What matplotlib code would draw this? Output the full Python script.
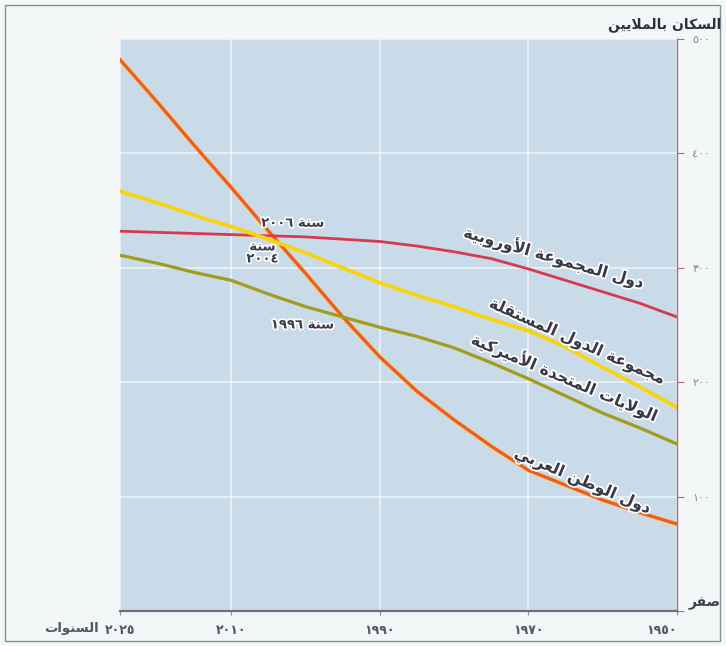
import matplotlib
matplotlib.use('Agg')
import matplotlib.pyplot as plt
import matplotlib.patheffects as pe
from matplotlib.patches import Rectangle

# years on the (reversed) x axis
years = [2025, 2020, 2015, 2010, 2005, 2000, 1995, 1990, 1985, 1980, 1975, 1970, 1965, 1960, 1955, 1950]

# population in millions
arab = [482, 445, 407, 370, 332, 295, 257, 222, 192, 167, 144, 123, 110, 97, 86, 76]
europe = [332, 331, 330, 329, 328, 327, 325, 323, 319, 314, 308, 299, 289, 279, 269, 257]
cis = [367, 357, 346, 336, 325, 313, 300, 287, 276, 266, 255, 245, 231, 213, 196, 178]
usa = [311, 304, 296, 289, 277, 266, 257, 248, 240, 230, 217, 203, 188, 173, 160, 146]

xticks = [2025, 2010, 1990, 1970, 1950]
xtick_labels = ['٢٠٢٥', '٢٠١٠', '١٩٩٠', '١٩٧٠', '١٩٥٠']
yticks = [0, 100, 200, 300, 400, 500]
ytick_labels = ['صفر', '١٠٠', '٢٠٠', '٣٠٠', '٤٠٠', '٥٠٠']

# --- tiny arabic shaper (matplotlib has no complex text layout) ---
dual = {'ب': 0xFE8F, 'ت': 0xFE95, 'ث': 0xFE99, 'ج': 0xFE9D, 'ح': 0xFEA1, 'خ': 0xFEA5,
        'س': 0xFEB1, 'ش': 0xFEB5, 'ص': 0xFEB9, 'ض': 0xFEBD, 'ط': 0xFEC1, 'ظ': 0xFEC5,
        'ع': 0xFEC9, 'غ': 0xFECD, 'ف': 0xFED1, 'ق': 0xFED5, 'ك': 0xFED9, 'ل': 0xFEDD,
        'م': 0xFEE1, 'ن': 0xFEE5, 'ه': 0xFEE9, 'ي': 0xFEF1}
right = {'آ': 0xFE81, 'أ': 0xFE83, 'إ': 0xFE87, 'ا': 0xFE8D, 'ة': 0xFE93, 'د': 0xFEA9,
         'ذ': 0xFEAB, 'ر': 0xFEAD, 'ز': 0xFEAF, 'و': 0xFEED, 'ى': 0xFEEF}
lamalef = {'آ': 0xFEF5, 'أ': 0xFEF7, 'إ': 0xFEF9, 'ا': 0xFEFB}


def ar(text):
    out = []
    i = 0
    n = len(text)
    while i < n:
        c = text[i]
        prev = text[i - 1] if i > 0 else ''
        nxt = text[i + 1] if i + 1 < n else ''
        pj = prev in dual
        if c == 'ل' and nxt in lamalef:
            out.append(chr(lamalef[nxt] + (1 if pj else 0)))
            i += 2
            continue
        if c in dual:
            nj = nxt in dual or nxt in right
            if pj and nj:
                out.append(chr(dual[c] + 3))
            elif pj:
                out.append(chr(dual[c] + 1))
            elif nj:
                out.append(chr(dual[c] + 2))
            else:
                out.append(chr(dual[c]))
        elif c in right:
            out.append(chr(right[c] + (1 if pj else 0)))
        else:
            out.append(c)
        i += 1
    # visual order: reverse, but keep digit runs left to right
    vis = ''.join(reversed(out))
    res = []
    run = ''
    for ch in vis:
        if '٠' <= ch <= '٩':
            run += ch
        else:
            res.append(run[::-1])
            run = ''
            res.append(ch)
    res.append(run[::-1])
    return ''.join(res)


plt.rcParams['font.family'] = ['DejaVu Sans']

fig = plt.figure(figsize=(7.26, 6.46), dpi=100, facecolor='#f3f7f8')
ax = fig.add_axes([120 / 726, 35 / 646, 557 / 726, 572 / 646])
ax.set_facecolor('#c9dbe9')

ax.plot(years, arab, color='#f6d24a', lw=3.6, alpha=0.7, solid_capstyle='butt')
ax.plot(years, arab, color='#ef5a25', lw=2.3)
ax.plot(years, europe, color='#d63a4c', lw=2.0)
ax.plot(years, cis, color='#f7d412', lw=2.8)
ax.plot(years, usa, color='#a29c1c', lw=2.3)

ax.set_xlim(2025, 1950)
ax.set_ylim(0, 500)

ax.set_xticks(xticks)
ax.set_xticklabels([ar(t) for t in xtick_labels], fontsize=9, color='#555560', fontweight='bold')
ax.get_xticklabels()[-1].set_horizontalalignment('right')
ax.yaxis.tick_right()
ax.set_yticks(yticks)
# zero label is drawn separately below, a bit larger and shifted
ax.set_yticklabels([''] + [ar(t) for t in ytick_labels[1:]], fontsize=8, color='#8a8a90')

ax.tick_params(axis='y', direction='out', length=5, color='#b06a8a', pad=6)
ax.tick_params(axis='x', direction='out', length=3, color='#8a8a95', pad=6)

ax.grid(True, color='white', lw=1.1, alpha=0.7)
ax.set_axisbelow(True)

for s in ['top', 'left']:
    ax.spines[s].set_visible(False)
ax.spines['right'].set_color('#b06a8a')
ax.spines['right'].set_linewidth(1.0)
ax.spines['bottom'].set_color('#6f6f7c')
ax.spines['bottom'].set_linewidth(1.6)

ax.annotate(ar(ytick_labels[0]), xy=(1950, 0), xycoords='data', xytext=(8, 6),
            textcoords='offset points', ha='left', va='center', fontsize=10,
            fontweight='bold', color='#404048', annotation_clip=False)

halo = [pe.withStroke(linewidth=2.5, foreground='white')]
lab = dict(fontsize=11.5, fontweight='bold', color='#3a3a48', ha='center', va='center',
           path_effects=halo, rotation_mode='anchor')

ax.text(1966.5, 309, ar('دول المجموعة الأوروبية'), rotation=-16, **lab)
ax.text(1963.4, 235, ar('مجموعة الدول المستقلة'), rotation=-24, **lab)
ax.text(1965.1, 204, ar('الولايات المتحدة الأميركية'), rotation=-23, **lab)
ax.text(1962.7, 113, ar('دول الوطن العربي'), rotation=-23, **lab)

note = dict(fontsize=9.5, fontweight='bold', color='#3a3a48', ha='center', va='center',
            path_effects=halo)
ax.text(2001.7, 339, ar('سنة ٢٠٠٦'), **note)
ax.text(2005.8, 313, ar('سنة') + '\n' + ar('٢٠٠٤'), linespacing=0.9, **note)
ax.text(2000.4, 250, ar('سنة ١٩٩٦'), **note)

ax.annotate(ar('السنوات'), xy=(2025, 0), xycoords='data', xytext=(-15, -12.3),
            textcoords='offset points', ha='right', va='center', fontsize=9.5,
            fontweight='bold', color='#555560', annotation_clip=False)

fig.text(721 / 726, 1 - 25 / 646, ar('السكان بالملايين'), ha='right', va='center',
         fontsize=10, fontweight='bold', color='#303038')

fig.patches.append(Rectangle((5 / 726, 5 / 646), 715 / 726, 636 / 646, transform=fig.transFigure,
                             fill=False, edgecolor='#8c8c94', lw=1.0))

fig.savefig('out.png', dpi=100, facecolor=fig.get_facecolor())
